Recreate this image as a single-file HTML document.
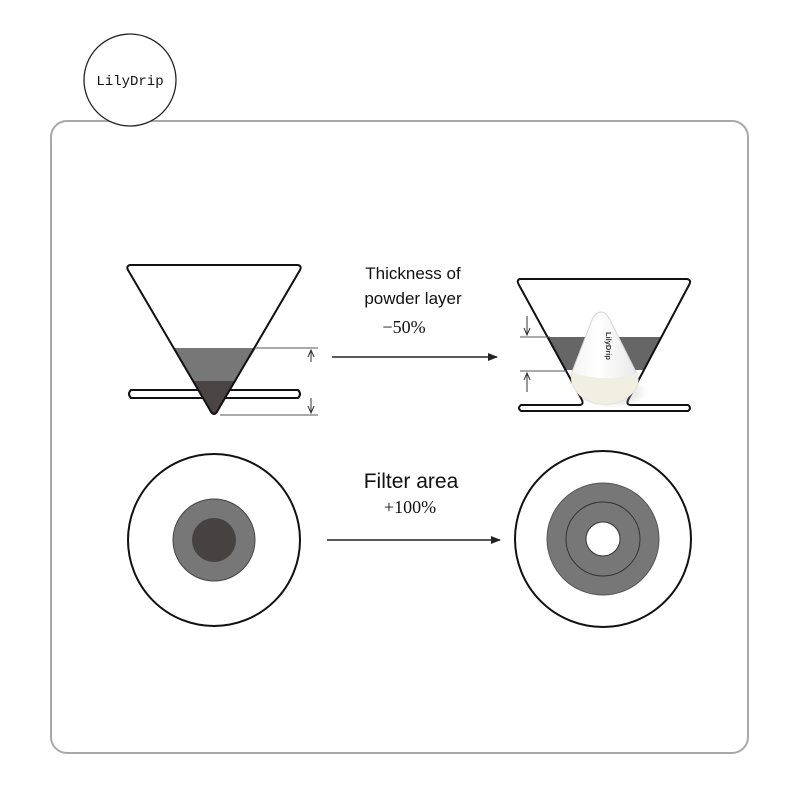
<!DOCTYPE html>
<html><head><meta charset="utf-8"><style>
html,body{margin:0;padding:0;background:#fff}
svg{display:block}
</style></head><body>
<svg width="800" height="800" viewBox="0 0 800 800" xmlns="http://www.w3.org/2000/svg">
<defs>
<marker id="ah" markerWidth="10" markerHeight="8" refX="9" refY="4" orient="auto" markerUnits="userSpaceOnUse"><path d="M0,0 L10,4 L0,8 z" fill="#222"/></marker>
<linearGradient id="cone" x1="0" y1="0" x2="1" y2="0"><stop offset="0" stop-color="#f4f4f4"/><stop offset="0.4" stop-color="#fff"/><stop offset="1" stop-color="#e8e8e8"/></linearGradient>
<radialGradient id="sh" cx="0.5" cy="0.5" r="0.5"><stop offset="0" stop-color="#999" stop-opacity="0.6"/><stop offset="1" stop-color="#999" stop-opacity="0"/></radialGradient>
</defs>
<rect x="51" y="121" width="697" height="632" rx="16" fill="#fff" stroke="#a8a8a8" stroke-width="2"/>
<circle cx="130" cy="80" r="46" fill="#fff" stroke="#222" stroke-width="1.3"/>
<text x="130" y="85" font-family="Liberation Mono,monospace" font-size="14" text-anchor="middle" fill="#111">LilyDrip</text>

<path d="M131,390 L298,390 Q302,394 298,398 L131,398 Q127,394 131,390z" fill="#fff" stroke="#111" stroke-width="2"/>
<path d="M173,348 L256,348 L214,415 Z" fill="#777"/>
<path d="M193,381 L235,381 L214,415 Z" fill="#4a4444"/>
<path d="M130,265 L298,265 Q302,266 300,270 L218,410 Q214,418 210,410 L128,270 Q126,266 130,265z" fill="none" stroke="#111" stroke-width="2"/>
<line x1="256" y1="348" x2="318" y2="348" stroke="#555" stroke-width="1"/>
<line x1="220" y1="415" x2="318" y2="415" stroke="#555" stroke-width="1"/>
<line x1="311" y1="350" x2="311" y2="362" stroke="#333" stroke-width="1"/>
<path d="M308,357 L311,350 L314,357" fill="none" stroke="#333" stroke-width="1"/>
<line x1="311" y1="398" x2="311" y2="413" stroke="#333" stroke-width="1"/>
<path d="M308,406 L311,413 L314,406" fill="none" stroke="#333" stroke-width="1"/>

<line x1="332" y1="357" x2="497" y2="357" stroke="#222" stroke-width="1.5" marker-end="url(#ah)"/>
<line x1="327" y1="540" x2="500" y2="540" stroke="#222" stroke-width="1.5" marker-end="url(#ah)"/>

<text x="413" y="279" font-family="Liberation Sans,sans-serif" font-size="17" text-anchor="middle" fill="#111">Thickness of</text>
<text x="413" y="304" font-family="Liberation Sans,sans-serif" font-size="17" text-anchor="middle" fill="#111">powder layer</text>
<text x="404" y="333" font-family="Liberation Serif,serif" font-size="18" text-anchor="middle" fill="#111">−50%</text>
<text x="411" y="488" font-family="Liberation Sans,sans-serif" font-size="21" text-anchor="middle" fill="#111">Filter area</text>
<text x="410" y="513" font-family="Liberation Serif,serif" font-size="18" text-anchor="middle" fill="#111">+100%</text>

<path d="M548,337 L661,337 L644,370 L565,370 Z" fill="#666"/>
<path d="M520,279 L687,279 Q692,280 689,285 L628,400 Q626,405 631,405 L688,405 Q692,408 688,411 L521,411 Q517,408 521,405 L579,405 Q584,405 582,400 L519,285 Q516,280 520,279z" fill="none" stroke="#111" stroke-width="2"/>
<ellipse cx="612" cy="392" rx="36" ry="16" fill="url(#sh)"/>
<path d="M601,312 Q606,312 610,320 L636,372 Q640,380 636,388 Q626,404 605,404 Q584,404 574,388 Q570,380 572,372 L592,320 Q596,312 601,312z" fill="url(#cone)" stroke="#d4d4d4" stroke-width="1"/>
<path d="M572,372 Q604,384 637,373 Q640,380 636,388 Q626,404 605,404 Q584,404 574,388 Q570,380 572,372z" fill="#f1eee2"/>
<text x="0" y="0" transform="translate(606,332) rotate(90)" font-family="Liberation Sans,sans-serif" font-size="7.5" font-weight="bold" fill="#333">LilyDrip</text>
<line x1="520" y1="337" x2="550" y2="337" stroke="#555" stroke-width="1"/>
<line x1="520" y1="371" x2="566" y2="371" stroke="#555" stroke-width="1"/>
<line x1="527" y1="316" x2="527" y2="335" stroke="#333" stroke-width="1"/>
<path d="M524,328 L527,335 L530,328" fill="none" stroke="#333" stroke-width="1"/>
<line x1="527" y1="373" x2="527" y2="392" stroke="#333" stroke-width="1"/>
<path d="M524,380 L527,373 L530,380" fill="none" stroke="#333" stroke-width="1"/>

<circle cx="214" cy="540" r="86" fill="#fff" stroke="#111" stroke-width="2"/>
<circle cx="214" cy="540" r="41" fill="#777" stroke="#444" stroke-width="1"/>
<circle cx="214" cy="540" r="22" fill="#474242"/>
<circle cx="603" cy="539" r="88" fill="#fff" stroke="#111" stroke-width="2"/>
<circle cx="603" cy="539" r="56" fill="#777" stroke="#555" stroke-width="1"/>
<circle cx="603" cy="539" r="37" fill="none" stroke="#333" stroke-width="1"/>
<circle cx="603" cy="539" r="17" fill="#fff" stroke="#333" stroke-width="1"/>
</svg>
</body></html>
